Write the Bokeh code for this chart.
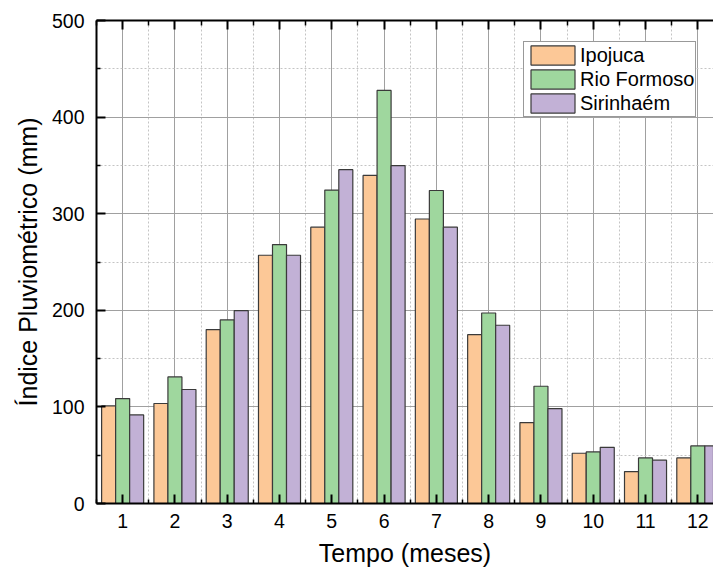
from bokeh.plotting import figure
from bokeh.models import Range1d, LinearAxis, FixedTicker, Legend, LegendItem, ColumnDataSource
from bokeh.transform import dodge
from bokeh.embed import file_html
from bokeh.resources import INLINE

# ---- data ----
months = [1, 2, 3, 4, 5, 6, 7, 8, 9, 10, 11, 12]
ipojuca = [101, 103.5, 180, 257, 286, 339.6, 294.5, 174.8, 83.8, 52, 33, 47.2]
rio_formoso = [108.6, 131, 190, 268, 324.5, 427.6, 324, 197.2, 121.4, 53.4, 47.2, 59.6]
sirinhaem = [91.7, 118, 199.7, 257, 345.6, 349.7, 286, 184.5, 98.3, 58.2, 44.8, 59.6]
series_names = ["Ipojuca", "Rio Formoso", "Sirinhaém"]
y_ticks = [0, 100, 200, 300, 400, 500]
y_minor = [50, 150, 250, 350, 450]
x_title = "Tempo (meses)"
y_title = "Índice Pluviométrico (mm)"

colors = ["#FCC897", "#9FD79E", "#C2B1D6"]
FONT = "Liberation Sans"

src = ColumnDataSource(dict(month=months, a=ipojuca, b=rio_formoso, c=sirinhaem))

p = figure(width=713, height=572, x_range=Range1d(0.5, 12.30), y_range=Range1d(0, 500),
           output_backend="svg", toolbar_location=None,
           min_border_left=96, min_border_right=0, min_border_top=20, min_border_bottom=69)
p.outline_line_color = None
p.background_fill_color = "white"
p.border_fill_color = "white"

bw = 0.268
renderers = []
for col, off, c in zip(["a", "b", "c"], [-bw, 0, bw], colors):
    r = p.vbar(x=dodge("month", off), top=col, width=bw, source=src,
               fill_color=c, line_color="#3a3a3a", line_width=1.2)
    renderers.append(r)

xt = FixedTicker(ticks=months, minor_ticks=[m - 0.5 for m in months] + [12.5])
yt = FixedTicker(ticks=y_ticks, minor_ticks=y_minor)

# axes
xa = p.xaxis[0]
xa.ticker = xt
ya = p.yaxis[0]
ya.ticker = yt
for ax in (xa, ya):
    ax.axis_line_width = 2
    ax.axis_line_color = "black"
    ax.major_tick_out = 0
    ax.major_tick_in = 9
    ax.minor_tick_out = 0
    ax.minor_tick_in = 4
    ax.major_tick_line_width = 2
    ax.minor_tick_line_width = 1.5
    ax.major_tick_line_color = "black"
    ax.minor_tick_line_color = "black"
    ax.major_label_text_font = FONT
    ax.major_label_text_font_size = "19.5px"
    ax.major_label_text_color = "black"
    ax.axis_label_text_font = FONT
    ax.axis_label_text_font_size = "25px"
    ax.axis_label_text_font_style = "normal"
    ax.axis_label_text_color = "black"
xa.axis_label = x_title
ya.axis_label = y_title
xa.major_label_standoff = 10
ya.major_label_standoff = 12
xa.axis_label_standoff = 8
ya.axis_label_standoff = 7

top = LinearAxis(ticker=xt, axis_line_width=2, major_tick_out=0, major_tick_in=9,
                 minor_tick_out=0, minor_tick_in=5, major_tick_line_width=2,
                 minor_tick_line_width=1.5, major_label_text_font_size="0px",
                 major_label_standoff=0,
                 major_label_overrides={m: "" for m in months})
p.add_layout(top, "above")

# grids
p.xgrid.ticker = xt
p.ygrid.ticker = yt
for g in (p.xgrid[0], p.ygrid[0]):
    g.grid_line_color = "#a0a0a0"
    g.grid_line_width = 1
    g.minor_grid_line_color = "#c4c4c4"
    g.minor_grid_line_dash = "2 2"
    g.minor_grid_line_width = 1

legend = Legend(items=[LegendItem(label=n, renderers=[r]) for n, r in zip(series_names, renderers)],
                location=(427, 386), orientation="vertical",
                glyph_width=55, glyph_height=24, spacing=0, padding=1, margin=0,
                label_standoff=0, label_height=20, label_text_font=FONT, label_text_font_size="20px",
                label_text_color="black",
                border_line_color="#333333", border_line_width=1.5,
                background_fill_color="white", background_fill_alpha=1.0)
p.add_layout(legend, "center")

open("out.html", "w").write(file_html(p, INLINE))
